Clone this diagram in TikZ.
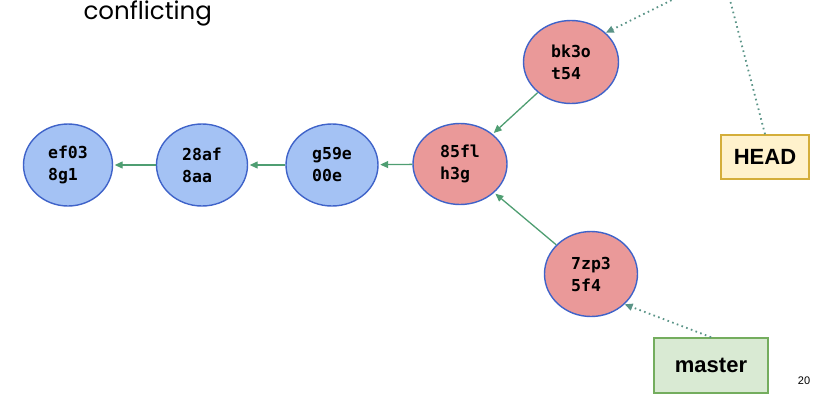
\documentclass[tikz,border=0pt]{standalone}
\usepackage{fontspec}
\setmainfont{Liberation Sans}
\newfontfamily\monofont{DejaVu Sans Mono}
\newfontfamily\titlefont{Poppins}
\usetikzlibrary{shapes.geometric,arrows.meta}
\definecolor{bluefill}{HTML}{A4C2F4}
\definecolor{redfill}{HTML}{EA9999}
\definecolor{ringcol}{HTML}{3F63C9}
\definecolor{edgecol}{HTML}{4F9E72}
\definecolor{dotcol}{HTML}{5A9487}
\definecolor{headfill}{HTML}{FFF2CC}
\definecolor{headdraw}{HTML}{D4AE3A}
\definecolor{masterfill}{HTML}{D9EAD3}
\definecolor{masterdraw}{HTML}{74AD5E}
\tikzset{
  commit/.style={ellipse, draw=ringcol, line width=1.4pt, inner sep=0pt,
    align=left, font=\monofont\bfseries\fontsize{16.5}{22}\selectfont,
    minimum width=91pt, minimum height=82pt},
  oldcommit/.style={commit, fill=bluefill},
  newcommit/.style={commit, fill=redfill},
  parent/.style={draw=edgecol, line width=1.3pt,
    -{Triangle[length=8pt,width=7pt]}, shorten >=1.5pt},
  pointer/.style={draw=dotcol, line width=1.8pt,
    dash pattern=on 1.6pt off 3.4pt},
  pointertip/.style={pointer, -{Triangle[length=8pt,width=7pt]}},
  branchbox/.style={draw, line width=1.6pt, inner sep=0pt,
    font=\bfseries\fontsize{22}{24}\selectfont}
}
\begin{document}
\begin{tikzpicture}[x=1pt,y=-1pt]
\useasboundingbox (0,0) rectangle (819,402);
\node[anchor=base west, font=\titlefont\fontsize{24.5}{26}\selectfont] (title) at (80,19) {conflicting};

\node[oldcommit, minimum width=89pt] (ef03) at (68,165) {ef03\\8g1};
\node[oldcommit] (28af) at (202,165) {28af\\8aa};
\node[oldcommit, minimum width=92pt] (g59e) at (332,165) {g59e\\00e};
\node[newcommit, minimum width=94pt, minimum height=81pt] (85fl) at (460,164) {85fl\\h3g};
\node[newcommit, minimum width=95pt, minimum height=83pt] (bk3o) at (571,62) {bk3o\\t54};
\node[newcommit, minimum width=93pt, minimum height=85pt] (7zp3) at (591,274) {7zp3\\5f4};

\node[branchbox, draw=headdraw, fill=headfill, minimum width=88pt, minimum height=44pt] (HEAD) at (765,157) {HEAD};
\node[branchbox, draw=masterdraw, fill=masterfill, minimum width=114pt, minimum height=55pt] (master) at (711,365.5) {master};

\node[font=\fontsize{11}{12}\selectfont] (pagenum) at (804,381) {20};

\draw[parent] (28af) -- (ef03);
\draw[parent] (g59e) -- (28af);
\draw[parent] (85fl) -- (g59e);
\draw[parent] (bk3o) -- (85fl);
\draw[parent] (7zp3) -- (85fl);

\coordinate (offA) at (676,-2);
\coordinate (offB) at (729.5,-2);
\draw[pointertip] (offA) -- (bk3o.40);
\draw[pointer] (HEAD.north) -- (offB);
\draw[pointertip] (master.north) -- (7zp3.-42);
\end{tikzpicture}
\end{document}
